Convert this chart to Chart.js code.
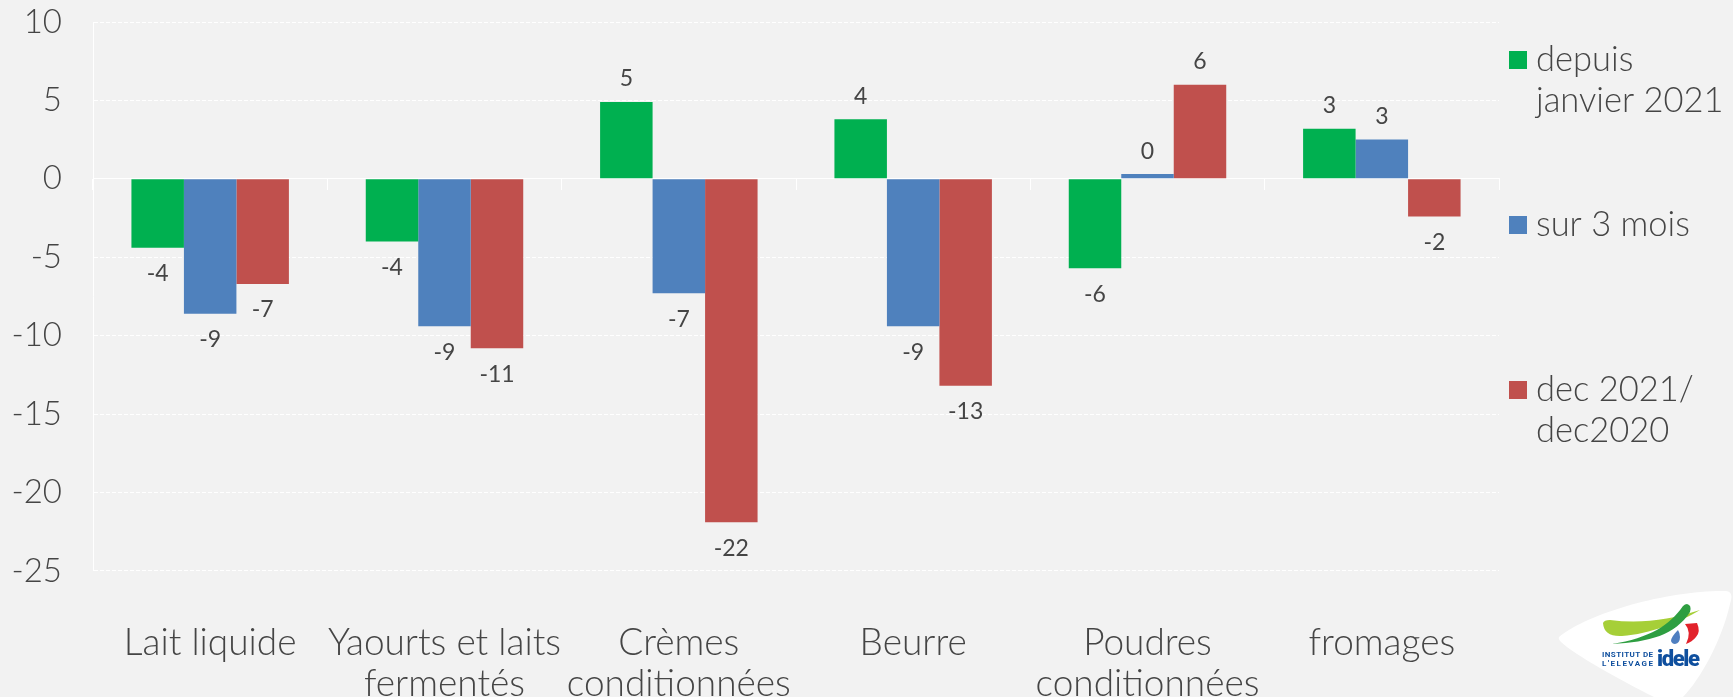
<!DOCTYPE html>
<html lang="fr"><head><meta charset="utf-8">
<script src="https://cdn.jsdelivr.net/npm/chart.js@4/dist/chart.umd.min.js"></script>
<style>
html,body{margin:0;padding:0;background:#f2f2f2;overflow:hidden;width:1733px;height:697px}
#wrap{position:absolute;left:0;top:0;width:1733px;height:706px}
#logo{position:absolute;left:0;top:0;width:1733px;height:697px;pointer-events:none}
</style></head><body>
<div id="wrap"><canvas id="c"></canvas></div>
<svg id="logo" viewBox="0 0 1733 697" xmlns="http://www.w3.org/2000/svg">
<path d="M1559 637 C1590 612 1670 590 1726 591 C1733 592 1732 598 1730 604 C1722 640 1700 680 1683 697 L1654 697 C1620 680 1575 655 1561 642 Q1558 639 1559 637Z" fill="#fff"/>
<path d="M1603 623 Q1604 620 1610 620 C1640 624 1670 620 1700 610 C1680 622 1650 634 1622 636 Q1604 637 1603 623Z" fill="#a6cf38"/>
<path d="M1683 606 C1670 625 1650 638 1612 644 C1650 642 1675 635 1690 612 Q1692 605 1687 604 Q1685 604 1683 606Z" fill="#2e9e41"/>
<path d="M1685 624 L1697 623 Q1701 632 1696 637 Q1692 642 1686 644 Q1692 632 1685 624Z" fill="#e2222b"/>
<path d="M1678 630 Q1671 637 1671 641 Q1672 644 1675 644 Q1680 643 1680 637 Q1680 633 1678 630Z" fill="#4f7fc0"/>
<text x="1602" y="657" font-family="Roboto" font-weight="700" font-size="8" textLength="51" fill="#0f4f9e">INSTITUT DE</text>
<text x="1602" y="666" font-family="Roboto" font-weight="700" font-size="8" textLength="51" fill="#0f4f9e">L'ELEVAGE</text>
<text x="1657" y="666" font-family="Roboto" font-weight="900" font-size="22" textLength="43" fill="#0f4f9e">idele</text>
</svg>
<script>
const categories = [["Lait liquide"],["Yaourts et laits","fermentés"],["Crèmes","conditionnées"],["Beurre"],["Poudres","conditionnées"],["fromages"]];
const seriesNames = ["depuis janvier 2021","sur 3 mois","dec 2021/ dec2020"];
const legendLines = [["depuis","janvier 2021"],["sur 3 mois"],["dec 2021/","dec2020"]];
const depuisJanvier = [-4.4,-4.0,4.9,3.8,-5.7,3.2];
const surTroisMois = [-8.6,-9.4,-7.3,-9.4,0.3,2.5];
const decSurDec = [-6.7,-10.8,-21.9,-13.2,6.0,-2.4];
const labelsDepuis = ["-4","-4","5","4","-6","3"];
const labelsTrois = ["-9","-9","-7","-9","0","3"];
const labelsDec = ["-7","-11","-22","-13","6","-2"];
const colors = ["#00b050","#4f81bd","#c0504d"];
const FONT = "Lato, 'Open Sans', sans-serif";
const TEXT = "#454545";

const dataLabels = {id:'dataLabels',afterDatasetsDraw(chart){
  const ctx = chart.ctx, sets=[labelsDepuis,labelsTrois,labelsDec];
  ctx.save();ctx.font="23px "+FONT;ctx.fillStyle=TEXT;ctx.textAlign='center';ctx.textBaseline='middle';
  chart.data.datasets.forEach((d,i)=>{chart.getDatasetMeta(i).data.forEach((el,j)=>{
    const v=d.data[j];
    ctx.fillText(sets[i][j],el.x,el.y+(v<0?26:-23));
  });});
  ctx.restore();
}};
const sideLegend = {id:'sideLegend',afterDraw(chart){
  const ctx=chart.ctx, ys=[60,225,390];
  ctx.save();ctx.textBaseline='middle';ctx.textAlign='left';ctx.font="300 34.5px "+FONT;
  legendLines.forEach((lines,i)=>{
    ctx.fillStyle=colors[i];ctx.fillRect(1509,ys[i]-9,18,18);
    ctx.fillStyle=TEXT;
    lines.forEach((t,k)=>ctx.fillText(t,1536,ys[i]+k*41));
  });
  ctx.restore();
}};
new Chart(document.getElementById('c'),{
  type:'bar',
  data:{labels:categories,datasets:[
    {label:seriesNames[0],data:depuisJanvier,backgroundColor:colors[0]},
    {label:seriesNames[1],data:surTroisMois,backgroundColor:colors[1]},
    {label:seriesNames[2],data:decSurDec,backgroundColor:colors[2]}
  ]},
  options:{
    responsive:true,maintainAspectRatio:false,animation:false,
    layout:{padding:{top:22,right:234,left:0,bottom:-43}},
    datasets:{bar:{categoryPercentage:0.672,barPercentage:1}},
    plugins:{legend:{display:false},tooltip:{enabled:false}},
    scales:{
      x:{position:'bottom',grid:{display:false},border:{display:false},
         ticks:{color:TEXT,font:{family:FONT,size:37,weight:300,lineHeight:1.11},padding:44,maxRotation:0,minRotation:0,autoSkip:false}},
      x0:{type:'category',labels:categories,position:{y:0},afterFit(s){s.height=0;},
         grid:{color:'#ffffff',drawOnChartArea:false,drawTicks:true,tickLength:11,tickColor:'#ffffff',offset:true},
         border:{display:true,color:'#ffffff',width:1},ticks:{display:false}},
      y:{min:-25,max:10,ticks:{stepSize:5,color:TEXT,font:{family:FONT,size:33,weight:300},padding:31},
         afterFit(s){s.width=93;s.paddingTop=0;s.paddingBottom=0;},
         grid:{color:'#ffffff',lineWidth:1,drawTicks:false},
         border:{display:true,color:'#ffffff',width:1,dash:[4,2]}}
    }
  },
  plugins:[dataLabels,sideLegend]
});
</script>
</body></html>
